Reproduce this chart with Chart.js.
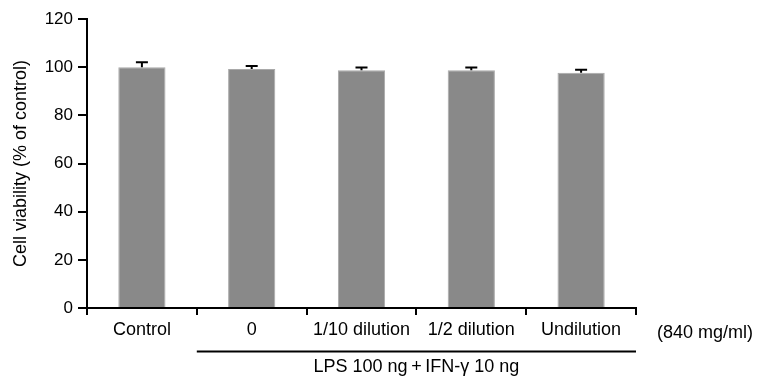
<!DOCTYPE html>
<html>
<head>
<meta charset="utf-8">
<script src="https://cdn.jsdelivr.net/npm/chart.js@4"></script>
<style>
  html, body { margin: 0; padding: 0; background: #fff; }
  #wrap { width: 761px; height: 380px; }
</style>
</head>
<body>
<div id="wrap"><canvas id="viabilityChart" width="761" height="380"></canvas></div>
<script>
const categories = ['Control', '0', '1/10 dilution', '1/2 dilution', 'Undilution'];
const viability = [100.0, 99.2, 98.7, 98.7, 97.7];
const errors = [2.0, 1.3, 1.2, 1.2, 1.2];
const yTicks = [0, 20, 40, 60, 80, 100, 120];
const concLabel = '(840 mg/ml)';
const groupLabel = 'LPS 100 ng\u2009+\u2009IFN-\u03b3 10 ng';

const FONT = "'Liberation Sans', Arial, sans-serif";

const extrasPlugin = {
    id: 'extras',
    afterDatasetsDraw(chart) {
        const ctx = chart.ctx;
        const xs = chart.scales.x;
        const ys = chart.scales.y;
        const meta = chart.getDatasetMeta(0);
        ctx.save();
        ctx.strokeStyle = '#000';
        ctx.lineWidth = 2;
        // upper error bars
        meta.data.forEach(function (bar, i) {
            const yTop = ys.getPixelForValue(viability[i] + errors[i]);
            const yBase = ys.getPixelForValue(viability[i]);
            ctx.beginPath();
            ctx.moveTo(bar.x, yBase);
            ctx.lineTo(bar.x, yTop);
            ctx.moveTo(bar.x - 6, yTop);
            ctx.lineTo(bar.x + 6, yTop);
            ctx.stroke();
        });
        // group bracket under treated categories
        const half = (xs.getPixelForValue(1) - xs.getPixelForValue(0)) / 2;
        const x0 = xs.getPixelForValue(1) - half;
        const x1 = xs.right;
        ctx.beginPath();
        ctx.moveTo(x0, 351.5);
        ctx.lineTo(x1, 351.5);
        ctx.stroke();

        ctx.fillStyle = '#000';
        ctx.font = '18px ' + FONT;
        ctx.textBaseline = 'middle';
        ctx.textAlign = 'center';
        ctx.fillText(groupLabel, (x0 + x1) / 2, 367);
        ctx.textAlign = 'left';
        ctx.fillText(concLabel, xs.right + 21, 333);
        ctx.restore();
    }
};

const ctx = document.getElementById('viabilityChart').getContext('2d');
new Chart(ctx, {
    type: 'bar',
    data: {
        labels: categories,
        datasets: [{
            data: viability,
            backgroundColor: '#898989',
            borderColor: '#a9a9a9',
            borderWidth: 1,
            barPercentage: 0.43,
            categoryPercentage: 1.0
        }]
    },
    options: {
        responsive: false,
        animation: false,
        devicePixelRatio: 1,
        layout: { padding: { left: 0, top: 19, right: 125, bottom: 0 } },
        plugins: {
            legend: { display: false },
            tooltip: { enabled: false }
        },
        scales: {
            x: {
                offset: true,
                grid: {
                    offset: true,
                    drawOnChartArea: false,
                    drawTicks: true,
                    tickLength: 7,
                    color: '#000',
                    lineWidth: 2
                },
                border: { display: true, color: '#000', width: 2 },
                ticks: {
                    color: '#000',
                    font: { family: FONT, size: 18 },
                    padding: 4,
                    maxRotation: 0,
                    autoSkip: false
                },
                afterFit(scale) { scale.height = 72; }
            },
            y: {
                min: 0,
                max: 120,
                afterBuildTicks(scale) { scale.ticks = yTicks.map(v => ({ value: v })); },
                grid: {
                    drawOnChartArea: false,
                    drawTicks: true,
                    tickLength: 9,
                    color: '#000',
                    lineWidth: 2
                },
                border: { display: true, color: '#000', width: 2 },
                ticks: {
                    color: '#000',
                    font: { family: FONT, size: 17 },
                    padding: 5
                },
                title: {
                    display: true,
                    text: 'Cell viability (% of control)',
                    color: '#000',
                    font: { family: FONT, size: 18 },
                    padding: { top: 10, bottom: 0 }
                },
                afterFit(scale) { scale.width = 87; }
            }
        }
    },
    plugins: [extrasPlugin]
});
</script>
</body>
</html>
